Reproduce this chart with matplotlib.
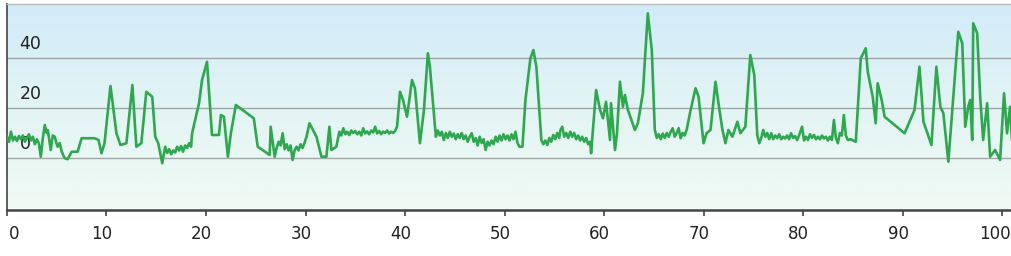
import matplotlib
matplotlib.use("Agg")
import matplotlib.pyplot as plt
import matplotlib.transforms as mtransforms
import numpy as np
from matplotlib.colors import LinearSegmentedColormap

# values
x_vals = [
    0.0, 0.2, 0.4, 0.6, 0.8, 1.0, 1.2, 1.4, 1.6, 1.8,
    2.0, 2.2, 2.4, 2.6, 2.8, 3.0, 3.2, 3.4, 3.6, 3.8,
    4.0, 4.1, 4.3, 4.4, 4.6, 4.8, 5.0, 5.1, 5.3, 5.5,
    5.8, 6.1, 6.5, 7.1, 7.5, 8.8, 9.2, 9.5, 9.8, 10.4,
    11.0, 11.4, 12.0, 12.6, 13.0, 13.5, 14.0, 14.6, 14.9, 15.2,
    15.6, 15.9, 16.1, 16.3, 16.5, 16.7, 16.9, 17.1, 17.3, 17.5,
    17.7, 17.9, 18.1, 18.3, 18.5, 18.6, 19.3, 19.6, 20.1, 20.6,
    21.3, 21.5, 21.8, 22.2, 22.5, 23.0, 24.8, 25.2, 26.4, 26.5,
    26.9, 27.1, 27.3, 27.5, 27.7, 27.9, 28.1, 28.3, 28.5, 28.7,
    28.9, 29.1, 29.3, 29.5, 29.7, 29.9, 30.1, 30.4, 31.1, 31.6,
    32.1, 32.4, 32.6, 33.1, 33.4, 33.6, 33.8, 34.0, 34.2, 34.4,
    34.6, 34.8, 35.0, 35.2, 35.4, 35.6, 35.8, 36.0, 36.2, 36.4,
    36.6, 36.8, 37.0, 37.2, 37.4, 37.6, 37.8, 38.0, 38.2, 38.4,
    38.6, 38.8, 39.0, 39.2, 39.5, 39.8, 40.2, 40.7, 41.0, 41.5,
    41.9, 42.3, 42.5, 43.1, 43.3, 43.5, 43.7, 43.9, 44.1, 44.3,
    44.5, 44.7, 44.9, 45.1, 45.3, 45.5, 45.7, 45.9, 46.1, 46.3,
    46.5, 46.7, 46.9, 47.1, 47.3, 47.5, 47.7, 47.9, 48.1, 48.3,
    48.5, 48.7, 48.9, 49.1, 49.3, 49.5, 49.7, 49.9, 50.1, 50.3,
    50.5, 50.7, 50.9, 51.1, 51.3, 51.5, 51.8, 52.1, 52.6, 52.9,
    53.2, 53.7, 53.9, 54.1, 54.3, 54.5, 54.7, 54.9, 55.1, 55.3,
    55.5, 55.6, 55.8, 56.0, 56.2, 56.4, 56.6, 56.8, 57.0, 57.2,
    57.4, 57.6, 57.8, 58.0, 58.2, 58.4, 58.6, 58.7, 59.2, 59.6,
    59.9, 60.2, 60.6, 60.7, 61.1, 61.3, 61.6, 61.9, 62.1, 62.4,
    63.1, 63.4, 63.9, 64.4, 64.8, 65.1, 65.3, 65.5, 65.7, 65.9,
    66.1, 66.3, 66.5, 66.7, 66.9, 67.1, 67.3, 67.5, 67.7, 67.9,
    68.1, 68.3, 68.7, 69.2, 69.5, 70.0, 70.3, 70.7, 71.2, 71.5,
    71.9, 72.2, 72.5, 72.9, 73.4, 73.7, 74.2, 74.7, 75.1, 75.4,
    75.6, 75.8, 76.0, 76.2, 76.4, 76.6, 76.8, 77.0, 77.2, 77.4,
    77.6, 77.8, 78.0, 78.2, 78.4, 78.6, 78.8, 79.0, 79.2, 79.4,
    79.6, 79.9, 80.1, 80.3, 80.5, 80.7, 80.9, 81.1, 81.3, 81.5,
    81.7, 81.9, 82.1, 82.3, 82.5, 82.7, 82.9, 83.1, 83.3, 83.5,
    83.7, 83.9, 84.1, 84.3, 84.5, 84.8, 85.1, 85.3, 85.8, 86.3,
    86.5, 87.0, 87.3, 87.5, 87.9, 88.2, 90.2, 91.2, 91.7, 92.1,
    92.9, 93.4, 93.8, 94.1, 94.6, 95.6, 96.0, 96.3, 96.6, 96.8,
    97.0, 97.1, 97.5, 97.8, 98.1, 98.5, 98.8, 99.3, 99.8, 100.2,
    100.5, 100.8, 101.1, 101.3, 101.5,
]
y_vals = [
    8.5, 6.5, 10.5, 7.0, 8.5, 6.8, 8.8, 7.5, 9.0, 6.5,
    8.0, 9.5, 7.0, 8.5, 5.5, 7.5, 5.9, 0.5, 8.0, 13.2,
    10.0, 11.2, 6.0, 3.2, 9.0, 8.5, 5.5, 4.5, 6.0, 2.5,
    -0.1, -0.5, 2.5, 2.5, 7.9, 7.9, 7.2, 1.9, 5.9, 28.8,
    9.9, 5.2, 5.9, 29.2, 4.5, 5.9, 26.5, 24.5, 8.5, 5.9,
    -2.1, 4.5, 2.0, 3.5, 1.5, 3.0, 2.2, 4.5, 3.0, 4.8,
    2.5, 5.0, 4.0, 5.9, 4.5, 9.9, 21.9, 31.2, 38.5, 9.2,
    9.2, 17.2, 16.5, 0.5, 9.9, 21.2, 15.9, 4.5, 1.2, 12.5,
    0.5, 4.0, 6.5, 5.0, 9.9, 3.5, 5.5, 3.0, 5.0, -0.8,
    3.0, 4.5, 3.0, 5.5, 4.0, 6.0, 8.5, 13.9, 8.5, 0.5,
    0.5, 12.5, 3.2, 4.5, 10.5, 9.0, 11.9, 9.5, 10.5, 9.2,
    11.0, 10.0, 10.8, 9.5, 10.5, 9.0, 11.9, 9.8, 10.6, 9.5,
    11.0, 10.2, 12.5, 9.8, 10.8, 9.5, 10.6, 10.0, 11.0, 9.8,
    10.5, 10.0, 10.8, 12.5, 26.5, 23.2, 16.5, 31.2, 27.9, 5.9,
    19.2, 41.9, 36.5, 8.5, 11.0, 9.0, 10.5, 7.2, 10.0, 8.0,
    10.5, 8.5, 9.8, 7.5, 9.5, 8.0, 10.0, 7.5, 9.0, 6.5,
    8.5, 9.9, 6.5, 8.0, 5.0, 8.5, 6.0, 7.5, 3.2, 6.5,
    5.0, 7.0, 5.5, 8.5, 6.5, 9.0, 7.0, 9.5, 7.5, 9.0,
    7.0, 9.5, 7.5, 10.5, 6.0, 4.5, 4.5, 23.2, 39.9, 43.2,
    36.5, 7.2, 5.5, 7.0, 5.2, 8.0, 6.5, 9.2, 7.5, 10.0,
    8.0, 11.0, 12.5, 8.5, 10.0, 8.0, 10.5, 8.5, 10.0, 7.5,
    9.0, 7.0, 8.5, 6.5, 8.0, 5.5, 6.5, 1.9, 27.2, 19.2,
    15.9, 22.5, 7.2, 21.9, 3.2, 9.9, 30.5, 20.5, 25.2, 19.2,
    11.2, 13.9, 25.9, 57.9, 43.2, 11.2, 8.0, 9.5, 7.5, 9.8,
    8.0, 10.0, 8.5, 10.5, 11.9, 8.5, 10.0, 11.9, 7.9, 10.0,
    9.0, 11.2, 19.2, 27.9, 24.5, 5.9, 9.9, 11.2, 30.5, 21.9,
    11.2, 5.9, 11.2, 8.5, 14.5, 9.9, 12.5, 41.2, 33.2, 9.2,
    5.9, 8.0, 11.2, 8.5, 10.0, 7.5, 9.9, 7.5, 9.0, 7.9,
    9.5, 7.5, 8.5, 7.8, 9.0, 7.5, 9.9, 8.0, 8.8, 7.2,
    9.0, 12.5, 7.0, 8.5, 7.2, 9.5, 8.0, 9.2, 7.5, 8.5,
    7.5, 9.0, 7.8, 8.5, 7.0, 8.5, 7.2, 15.2, 8.0, 5.9,
    10.0, 9.0, 17.2, 9.0, 7.2, 7.5, 6.8, 6.5, 39.9, 43.9,
    34.5, 24.5, 13.9, 29.9, 23.2, 16.5, 9.9, 19.2, 36.5, 14.5,
    5.2, 36.5, 20.5, 17.9, -1.5, 50.5, 45.9, 12.5, 20.5, 23.2,
    7.2, 53.9, 49.9, 24.5, 7.2, 21.9, 0.5, 3.2, -0.8, 25.9,
    9.9, 20.5, 0.5, -0.8, 36.5,
]
x_ticks = [0, 10, 20, 30, 40, 50, 60, 70, 80, 90, 100]
y_ticks = [0, 20, 40]

plt.rcParams['font.family'] = ['DejaVu Sans']

fig = plt.figure(figsize=(10.12, 2.56), dpi=100)
ax = fig.add_axes([0.0069, 0.180, 1.0, 0.804])

xmin, xmax = 0, 101.7
ymin, ymax = -20.8, 61.6
ax.set_xlim(xmin, xmax)
ax.set_ylim(ymin, ymax)

# background gradient, light blue at top to pale mint at bottom
cmap = LinearSegmentedColormap.from_list("bg", ["#f0fbf4", "#e3f4f4", "#d1ebf9"])
grad = np.linspace(0, 1, 256).reshape(-1, 1)
ax.imshow(grad, extent=[xmin, xmax, ymin, ymax], origin="lower", aspect="auto", cmap=cmap, zorder=0)

for v in y_ticks:
    ax.axhline(v, color="#9ea6a6", lw=1.0, zorder=1)
    ax.annotate(str(v), xy=(0, v), xycoords=("axes fraction", "data"),
                xytext=(9, 10), textcoords="offset points", ha="left", va="center",
                fontsize=12.5, color="#222222", zorder=2)

ax.plot(x_vals, y_vals, color="#2ea84f", lw=1.9, zorder=3)

ax.set_yticks([])
ax.set_xticks(x_ticks)
ax.set_xticklabels([str(t) for t in x_ticks])
ax.tick_params(axis="x", direction="out", length=4, width=1.2, color="#444444",
               labelsize=12, labelcolor="#222222", pad=7)

# labels sit a little left of their ticks in the reference, the first one right of it
labels = ax.get_xticklabels()
for i, lab in enumerate(labels):
    if i == 0:
        dx = 0.075
    elif i == len(labels) - 1:
        dx = -0.07
    else:
        dx = -0.045
    lab.set_transform(lab.get_transform() + mtransforms.ScaledTranslation(dx, 0, fig.dpi_scale_trans))

ax.spines["right"].set_visible(False)
ax.spines["top"].set_color("#bbbbbb")
ax.spines["top"].set_linewidth(1.0)
ax.spines["left"].set_color("#444444")
ax.spines["left"].set_linewidth(1.2)
ax.spines["bottom"].set_color("#444444")
ax.spines["bottom"].set_linewidth(1.8)

fig.savefig("out.png", dpi=100, facecolor="white")
